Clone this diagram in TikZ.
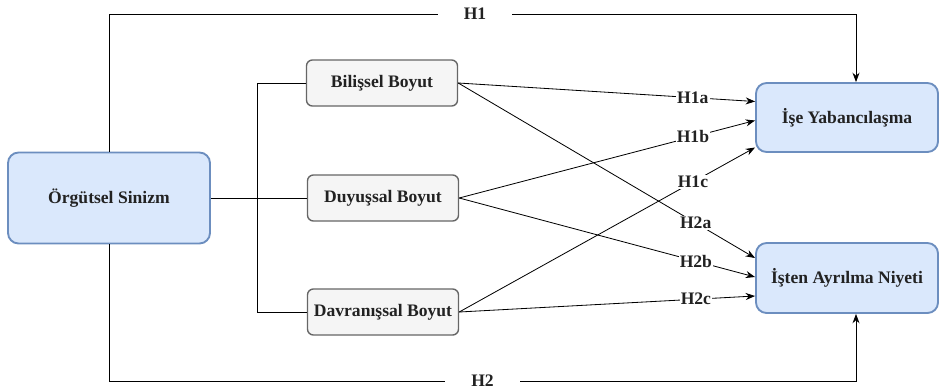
\documentclass[tikz,border=0pt]{standalone}
\usepackage{fontspec}
\setmainfont{Liberation Serif}
\usetikzlibrary{arrows.meta,calc}
\definecolor{blueFill}{HTML}{DAE8FC}
\definecolor{blueLine}{HTML}{6C8EBF}
\definecolor{grayFill}{HTML}{F5F5F5}
\definecolor{grayLine}{HTML}{666666}
\definecolor{txt}{HTML}{222222}
\begin{document}
\begin{tikzpicture}[x=0.03cm,y=-0.03cm,
  every node/.style={font=\fontsize{15}{17}\selectfont\bfseries,text=txt},
  mainbox/.style={draw=blueLine,fill=blueFill,line width=1.6pt,rounded corners=9pt},
  dimbox/.style={draw=grayLine,fill=grayFill,line width=1.2pt,rounded corners=5pt,
    minimum width=4.53cm,minimum height=1.38cm},
  arr/.style={line width=0.7pt,-{Stealth[length=8pt,width=6pt]}},
  hlbl/.style={fill=white,inner sep=1pt}]
\useasboundingbox (0,0) rectangle (945,390);
% boxes
\node[mainbox,minimum width=6.06cm,minimum height=2.73cm] (sinizm) at (109,198) {Örgütsel Sinizm};
\node[dimbox] (bilissel) at (382,83) {Bilişsel Boyut};
\node[dimbox] (duyussal) at (383,198) {Duyuşsal Boyut};
\node[dimbox] (davranissal) at (383,312) {Davranışsal Boyut};
\node[mainbox,minimum width=5.46cm,minimum height=2.07cm] (yabanci) at (847,117.5) {İşe Yabancılaşma};
\node[mainbox,minimum width=5.46cm,minimum height=2.1cm] (ayrilma) at (847,278) {İşten Ayrılma Niyeti};
% dimensions
\draw[line width=0.7pt] (sinizm.east) -- (duyussal.west);
\draw[line width=0.7pt] (bilissel.west) -- ++(-48,0) |- (davranissal.west);
% direct paths
\draw[arr] (sinizm.north) |- node[hlbl,pos=0.745,inner xsep=0.78cm]{H1} ($(yabanci.north)+(9,-68)$) -- ($(yabanci.north)+(9,0)$);
\draw[arr] (sinizm.south) |- node[hlbl,pos=0.75,inner xsep=0.78cm]{H2} ($(ayrilma.south)+(9,67)$) -- ($(ayrilma.south)+(9,0)$);
% hypotheses
\draw[arr] (bilissel.east) -- node[hlbl,pos=0.79]{H1a} ($(yabanci.west)+(0,-16)$);
\draw[arr] (duyussal.east) -- node[hlbl,pos=0.79]{H1b} ($(yabanci.west)+(0,3)$);
\draw[arr] (davranissal.east) -- node[hlbl,pos=0.79]{H1c} ($(yabanci.west)+(0,30)$);
\draw[arr] (bilissel.east) -- node[hlbl,pos=0.8]{H2a} ($(ayrilma.west)+(0,-20)$);
\draw[arr] (duyussal.east) -- node[hlbl,pos=0.8]{H2b} ($(ayrilma.west)+(0,-1)$);
\draw[arr] (davranissal.east) -- node[hlbl,pos=0.8]{H2c} ($(ayrilma.west)+(0,18)$);
\end{tikzpicture}
\end{document}
